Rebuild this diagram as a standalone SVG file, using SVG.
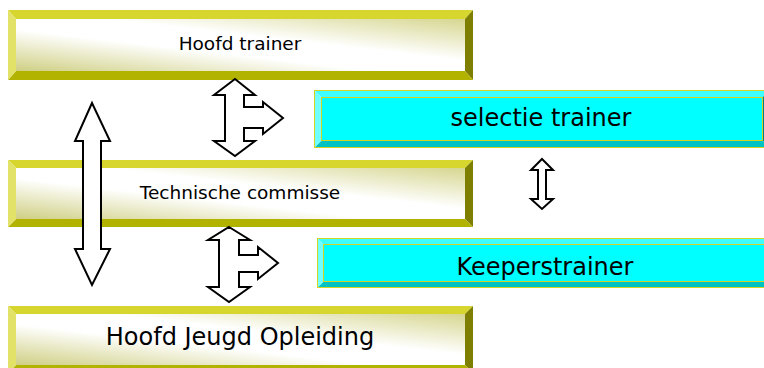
<svg xmlns="http://www.w3.org/2000/svg" width="764" height="368" viewBox="0 0 764 368">
<style>
.yt{fill:#D6D62E}
.yl{fill:#E2E268}
.yb{fill:#B2B200}
.yr{fill:#7E7E00}
.ct{fill:#3DFFFF}
.cl{fill:#70FFFF}
.cb{fill:#00C2C2}
.cr{fill:#008080}
.cin{fill:#00FFFF}
.edge{fill:none;stroke:#D4D424;stroke-width:1}
.lbl{font-family:"DejaVu Sans","Verdana",sans-serif;fill:#000;text-anchor:middle}
.arrow{fill:#fff;stroke:#000;stroke-width:2;stroke-linejoin:miter}
</style>
<defs>
<linearGradient id="yg" x1="0" y1="1" x2="1" y2="0">
<stop offset="0" stop-color="#CFCF84"/>
<stop offset="0.4" stop-color="#FFFFFF"/>
<stop offset="0.6" stop-color="#FFFFFF"/>
<stop offset="1" stop-color="#D6D690"/>
</linearGradient>
</defs>
<rect width="764" height="368" fill="#fff"/>

<g id="hoofd-trainer">
<polygon class="yt" points="8,10 473,10 465,19 16,19"/>
<polygon class="yr" points="473,10 473,80 465,71 465,19"/>
<polygon class="yb" points="8,80 473,80 465,71 16,71"/>
<polygon class="yl" points="8,10 8,80 16,71 16,19"/>
<rect x="16" y="19" width="449" height="52" fill="url(#yg)"/>
<text class="lbl" x="240" y="50" font-size="18.5">Hoofd trainer</text>
</g>

<g id="technische-commisse">
<polygon class="yt" points="8,160 473,160 465,168 16,168"/>
<polygon class="yr" points="473,160 473,227 465,219 465,168"/>
<polygon class="yb" points="8,227 473,227 465,219 16,219"/>
<polygon class="yl" points="8,160 8,227 16,219 16,168"/>
<rect x="16" y="168" width="449" height="51" fill="url(#yg)"/>
<text class="lbl" x="240" y="199" font-size="18.5">Technische commisse</text>
</g>

<g id="hoofd-jeugd-opleiding">
<polygon class="yt" points="8,306 473,306 465,314 16,314"/>
<polygon class="yr" points="473,306 473,373 465,365 465,314"/>
<polygon class="yb" points="8,373 473,373 465,365 16,365"/>
<polygon class="yl" points="8,306 8,373 16,365 16,314"/>
<rect x="16" y="314" width="449" height="51" fill="url(#yg)"/>
<text class="lbl" x="240" y="345" font-size="24">Hoofd Jeugd Opleiding</text>
</g>

<g id="selectie-trainer">
<polygon class="ct" points="314,90 770,90 763,97 321,97"/>
<polygon class="cr" points="770,90 770,148 763,141 763,97"/>
<polygon class="cb" points="314,148 770,148 763,141 321,141"/>
<polygon class="cl" points="314,90 314,148 321,141 321,97"/>
<rect class="cin" x="321" y="97" width="442" height="44"/>
<rect class="edge" x="314.5" y="90.5" width="455" height="57"/>
<rect class="edge" x="321.5" y="97.5" width="441" height="43"/>
<text class="lbl" x="541" y="126" font-size="24">selectie trainer</text>
</g>

<g id="keeperstrainer">
<polygon class="ct" points="317,238 777,238 771,244 323,244"/>
<polygon class="cr" points="777,238 777,288 771,282 771,244"/>
<polygon class="cb" points="317,288 777,288 771,282 323,282"/>
<polygon class="cl" points="317,238 317,288 323,282 323,244"/>
<rect class="cin" x="323" y="244" width="448" height="38"/>
<rect class="edge" x="317.5" y="238.5" width="459" height="49"/>
<rect class="edge" x="323.5" y="244.5" width="447" height="37"/>
<text class="lbl" x="545" y="275" font-size="24">Keeperstrainer</text>
</g>

<g id="connectors">
<polygon class="arrow" points="235,79 255,95 244,95 244,107 263,107 263,102 283,118 263,134 263,128 244,128 244,141 255,141 235,156 214,141 225,141 225,95 214,95"/>
<polygon class="arrow" points="229,227 250,240 239,240 239,255 258,255 258,247 278,263 258,279 258,272 239,272 239,287 250,287 229,302 208,287 219,287 219,240 208,240"/>
<polygon class="arrow" points="92,103 110,141 101,141 101,249 110,249 92,285 75,249 83,249 83,141 75,141"/>
<polygon class="arrow" points="542,159 553,170 546,170 546,199 553,199 542,209 531,199 538,199 538,170 531,170"/>
</g>
</svg>
